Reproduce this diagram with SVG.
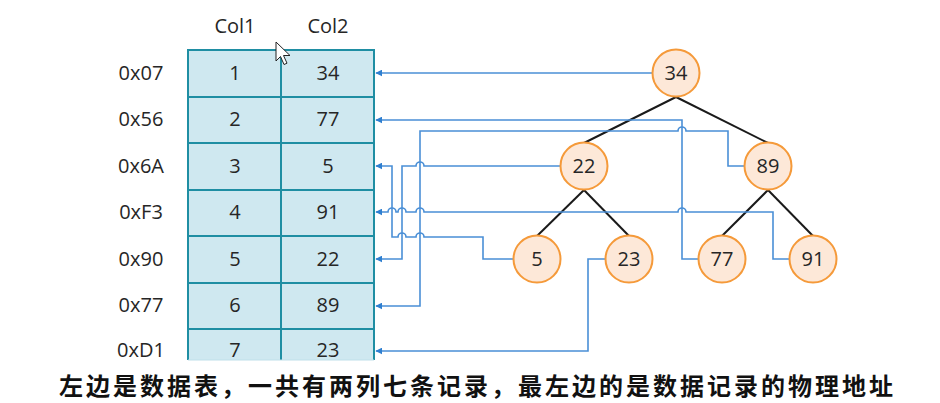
<svg xmlns="http://www.w3.org/2000/svg" width="940" height="403" viewBox="0 0 940 403">
<defs>
<style>
.lbl{font-family:"Open Sans","Liberation Sans",sans-serif;font-size:20px;fill:#262626;text-anchor:middle}
.grid{stroke:#1f8ea3;stroke-width:2;fill:none}
.node circle{fill:#fde8d8;stroke:#f59a3a;stroke-width:2}
.edge{stroke:#1a1a1a;stroke-width:2;fill:none}
.conn{stroke:#4a8fd6;stroke-width:1.6;fill:none}
.cap{font-family:"Noto Sans CJK SC","Noto Sans CJK TC",sans-serif;font-size:24px;font-weight:bold;fill:#111;text-anchor:middle}
</style>
<marker id="arr" viewBox="0 0 10 10" refX="9" refY="5" markerWidth="7" markerHeight="7" orient="auto-start-reverse" markerUnits="userSpaceOnUse">
<path d="M0,0 L10,5 L0,10 z" fill="#2f7fd0"/>
</marker>
</defs>
<rect width="940" height="403" fill="#ffffff"/>

<g id="table">
<rect x="188" y="50" width="186" height="310" fill="#cfe8f0"/>
<path class="grid" d="M188,360 V50 H374 V360 M281,50 V360 M188,97 H374 M188,143 H374 M188,190 H374 M188,236 H374 M188,283 H374 M188,329 H374"/>
<line x1="188" y1="360" x2="374" y2="360" stroke="#bfe0ea" stroke-width="1"/>
<text class="lbl" x="235" y="33">Col1</text>
<text class="lbl" x="328" y="33">Col2</text>
<text class="lbl" x="141" y="80">0x07</text>
<text class="lbl" x="141" y="126">0x56</text>
<text class="lbl" x="141" y="173">0x6A</text>
<text class="lbl" x="141" y="219">0xF3</text>
<text class="lbl" x="141" y="266">0x90</text>
<text class="lbl" x="141" y="312">0x77</text>
<text class="lbl" x="141" y="357">0xD1</text>
<text class="lbl" x="235" y="80">1</text>
<text class="lbl" x="235" y="126">2</text>
<text class="lbl" x="235" y="173">3</text>
<text class="lbl" x="235" y="219">4</text>
<text class="lbl" x="235" y="266">5</text>
<text class="lbl" x="235" y="312">6</text>
<text class="lbl" x="235" y="357">7</text>
<text class="lbl" x="328" y="80">34</text>
<text class="lbl" x="328" y="126">77</text>
<text class="lbl" x="328" y="173">5</text>
<text class="lbl" x="328" y="219">91</text>
<text class="lbl" x="328" y="266">22</text>
<text class="lbl" x="328" y="312">89</text>
<text class="lbl" x="328" y="357">23</text>
</g>

<g id="tree-edges">
<line class="edge" x1="676" y1="97" x2="584" y2="143"/>
<line class="edge" x1="676" y1="97" x2="768" y2="143"/>
<line class="edge" x1="584" y1="190" x2="537" y2="236"/>
<line class="edge" x1="584" y1="190" x2="629" y2="236"/>
<line class="edge" x1="768" y1="190" x2="722" y2="236"/>
<line class="edge" x1="768" y1="190" x2="813" y2="236"/>
</g>

<g id="connectors">
<path class="conn" marker-end="url(#arr)" d="M652,73 H376"/>
<path class="conn" marker-end="url(#arr)" d="M698,259 H682 V120 H376"/>
<path class="conn" marker-end="url(#arr)" d="M744,166 H728 V131 H686 a4,4 0 0 0 -8,0 H420 V306 H376"/>
<path class="conn" marker-end="url(#arr)" d="M561,166 H424 a4,4 0 0 0 -8,0 H402 V259 H376"/>
<path class="conn" marker-end="url(#arr)" d="M513,259 H483 V237 H424 a4,4 0 0 0 -8,0 H406 a4,4 0 0 0 -8,0 H392 V166 H376"/>
<path class="conn" marker-end="url(#arr)" d="M790,259 H773 V212 H686 a4,4 0 0 0 -8,0 H424 a4,4 0 0 0 -8,0 H406 a4,4 0 0 0 -8,0 H396 a4,4 0 0 0 -8,0 H376"/>
<path class="conn" marker-end="url(#arr)" d="M605,259 H588 V351 H376"/>
</g>

<g id="n34" class="node"><circle cx="676" cy="73" r="23.5"/><text class="lbl" x="676" y="80">34</text></g>
<g id="n22" class="node"><circle cx="584" cy="166" r="23.5"/><text class="lbl" x="584" y="173">22</text></g>
<g id="n89" class="node"><circle cx="768" cy="166" r="23.5"/><text class="lbl" x="768" y="173">89</text></g>
<g id="n5" class="node"><circle cx="537" cy="259" r="23.5"/><text class="lbl" x="537" y="266">5</text></g>
<g id="n23" class="node"><circle cx="629" cy="259" r="23.5"/><text class="lbl" x="629" y="266">23</text></g>
<g id="n77" class="node"><circle cx="722" cy="259" r="23.5"/><text class="lbl" x="722" y="266">77</text></g>
<g id="n91" class="node"><circle cx="813" cy="259" r="23.5"/><text class="lbl" x="813" y="266">91</text></g>

<path d="M276,42 v19 l4.5,-4.5 l3.5,8 l3,-1.3 l-3.5,-7.7 h6.5 z" fill="#ffffff" stroke="#222" stroke-width="1"/>

<text class="cap" x="476" y="395" textLength="834" lengthAdjust="spacing">左边是数据表，一共有两列七条记录，最左边的是数据记录的物理地址</text>
</svg>
